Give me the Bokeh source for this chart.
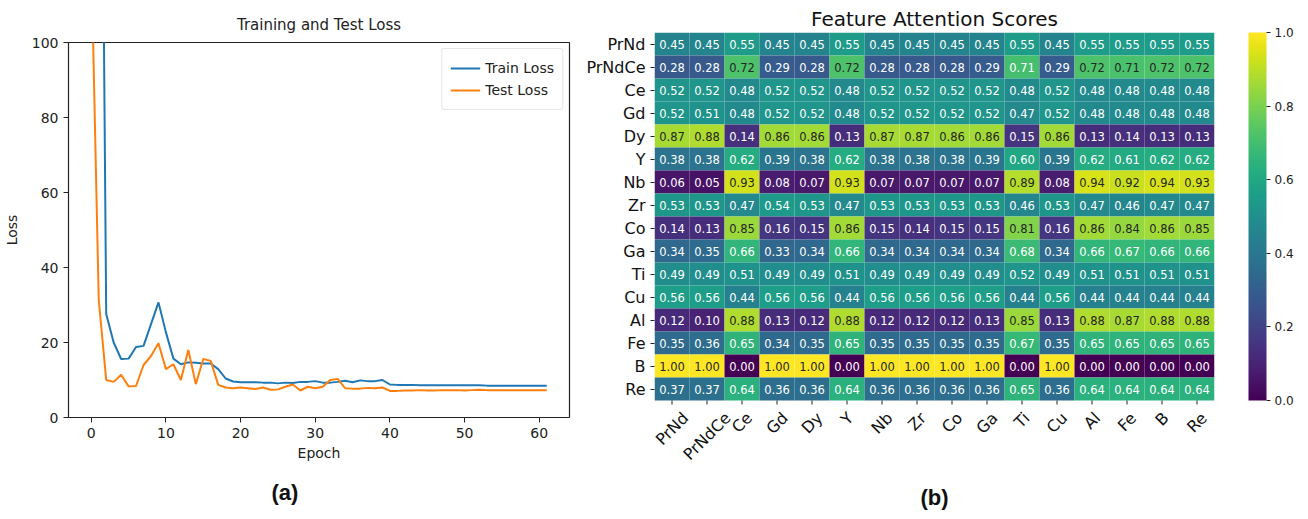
import math
from bokeh.plotting import figure
from bokeh.models import (Range1d, FixedTicker, ColumnDataSource, LinearColorMapper,
                          ColorBar, Title, FactorRange, PrintfTickFormatter)
from bokeh.palettes import Viridis256
from bokeh.layouts import row, column
from bokeh.embed import file_html
from bokeh.resources import INLINE
from bokeh.core.properties import value

FONT = "DejaVu Sans"

# ---------------- data: loss curves ----------------
epochs = list(range(62))
train_loss = [500, 270, 27.6, 20.0, 15.6, 15.7, 18.8, 19.1, 24.9, 30.7,
              22.7, 15.7, 14.2, 14.7, 14.6, 14.4, 14.4, 12.9, 10.4, 9.6,
              9.4, 9.4, 9.4, 9.3, 9.3, 9.1, 9.3, 9.2, 9.5, 9.5,
              9.7, 9.3, 9.3, 9.5, 9.8, 9.4, 9.9, 9.7, 9.7, 10.0,
              8.8, 8.7, 8.7, 8.7, 8.6, 8.6, 8.6, 8.6, 8.6, 8.6,
              8.6, 8.6, 8.6, 8.5, 8.5, 8.5, 8.5, 8.5, 8.5, 8.5,
              8.5, 8.5]
test_loss = [123, 31.4, 10.0, 9.5, 11.4, 8.3, 8.4, 14.0, 16.4, 19.8,
             12.9, 14.2, 10.0, 18.0, 8.9, 15.6, 15.1, 8.7, 8.0, 7.8,
             8.0, 7.8, 7.6, 8.0, 7.4, 7.5, 8.2, 8.8, 7.2, 8.2,
             7.8, 8.2, 10.0, 10.3, 7.8, 7.7, 7.7, 7.9, 7.8, 8.0,
             7.1, 7.1, 7.2, 7.2, 7.3, 7.2, 7.2, 7.3, 7.3, 7.3,
             7.2, 7.3, 7.4, 7.3, 7.3, 7.3, 7.3, 7.3, 7.3, 7.3,
             7.3, 7.3]
x_ticks = [0, 10, 20, 30, 40, 50, 60]
y_ticks = [0, 20, 40, 60, 80, 100]

# ---------------- data: attention heatmap ----------------
features = ["PrNd", "PrNdCe", "Ce", "Gd", "Dy", "Y", "Nb", "Zr",
            "Co", "Ga", "Ti", "Cu", "Al", "Fe", "B", "Re"]
row_PrNd   = [0.45, 0.45, 0.55, 0.45, 0.45, 0.55, 0.45, 0.45, 0.45, 0.45, 0.55, 0.45, 0.55, 0.55, 0.55, 0.55]
row_PrNdCe = [0.28, 0.28, 0.72, 0.29, 0.28, 0.72, 0.28, 0.28, 0.28, 0.29, 0.706, 0.29, 0.72, 0.713, 0.72, 0.72]
row_Ce     = [0.52, 0.52, 0.48, 0.52, 0.52, 0.48, 0.52, 0.52, 0.52, 0.52, 0.48, 0.52, 0.48, 0.48, 0.48, 0.48]
row_Gd     = [0.52, 0.51, 0.48, 0.52, 0.52, 0.48, 0.52, 0.52, 0.52, 0.52, 0.47, 0.52, 0.48, 0.48, 0.48, 0.48]
row_Dy     = [0.87, 0.88, 0.14, 0.86, 0.86, 0.13, 0.87, 0.87, 0.86, 0.86, 0.15, 0.86, 0.13, 0.14, 0.13, 0.13]
row_Y      = [0.38, 0.38, 0.62, 0.39, 0.38, 0.62, 0.38, 0.38, 0.38, 0.39, 0.60, 0.39, 0.62, 0.61, 0.62, 0.62]
row_Nb     = [0.06, 0.05, 0.93, 0.08, 0.07, 0.93, 0.07, 0.07, 0.07, 0.07, 0.89, 0.08, 0.94, 0.92, 0.94, 0.93]
row_Zr     = [0.53, 0.53, 0.47, 0.54, 0.53, 0.47, 0.53, 0.53, 0.53, 0.53, 0.46, 0.53, 0.47, 0.46, 0.47, 0.47]
row_Co     = [0.14, 0.13, 0.85, 0.16, 0.15, 0.86, 0.15, 0.14, 0.15, 0.15, 0.81, 0.16, 0.86, 0.84, 0.86, 0.85]
row_Ga     = [0.34, 0.35, 0.66, 0.33, 0.34, 0.66, 0.34, 0.34, 0.34, 0.34, 0.68, 0.34, 0.66, 0.67, 0.66, 0.66]
row_Ti     = [0.49, 0.49, 0.51, 0.49, 0.49, 0.51, 0.49, 0.49, 0.49, 0.49, 0.52, 0.49, 0.51, 0.51, 0.51, 0.51]
row_Cu     = [0.56, 0.56, 0.44, 0.56, 0.56, 0.44, 0.56, 0.56, 0.56, 0.56, 0.44, 0.56, 0.44, 0.44, 0.44, 0.44]
row_Al     = [0.12, 0.10, 0.88, 0.13, 0.12, 0.88, 0.12, 0.12, 0.12, 0.13, 0.85, 0.13, 0.88, 0.87, 0.88, 0.88]
row_Fe     = [0.35, 0.36, 0.65, 0.34, 0.35, 0.65, 0.35, 0.35, 0.35, 0.35, 0.67, 0.35, 0.65, 0.65, 0.65, 0.65]
row_B      = [1.00, 1.00, 0.00, 1.00, 1.00, 0.00, 1.00, 1.00, 1.00, 1.00, 0.00, 1.00, 0.00, 0.00, 0.00, 0.00]
row_Re     = [0.37, 0.37, 0.64, 0.36, 0.36, 0.64, 0.36, 0.36, 0.36, 0.36, 0.65, 0.36, 0.64, 0.64, 0.64, 0.64]
score_rows = [row_PrNd, row_PrNdCe, row_Ce, row_Gd, row_Dy, row_Y, row_Nb, row_Zr,
              row_Co, row_Ga, row_Ti, row_Cu, row_Al, row_Fe, row_B, row_Re]
cbar_ticks = [0.0, 0.2, 0.4, 0.6, 0.8, 1.0]

H = 519

# ---------------- left: loss plot ----------------
p1 = figure(width=580, height=H, x_range=Range1d(-3.05, 64.05), y_range=Range1d(0, 100),
            output_backend="svg", toolbar_location=None, title="Training and Test Loss",
            min_border_left=66, min_border_right=11, min_border_top=42, min_border_bottom=H - 417)
p1.title.align = "center"
p1.title.text_font = FONT
p1.title.text_font_size = "15px"
p1.title.text_font_style = "normal"
p1.title.text_color = "#222222"
p1.title.standoff = 17
p1.outline_line_color = "#222222"
p1.outline_line_width = 1.2
p1.grid.visible = False

p1.line(epochs, train_loss, line_color="#1f77b4", line_width=2, legend_label="Train Loss")
p1.line(epochs, test_loss, line_color="#ff7f0e", line_width=2, legend_label="Test Loss")

p1.xaxis.ticker = FixedTicker(ticks=x_ticks)
p1.yaxis.ticker = FixedTicker(ticks=y_ticks)
for ax in (p1.xaxis[0], p1.yaxis[0]):
    ax.major_label_text_font = FONT
    ax.major_label_text_font_size = "14px"
    ax.major_label_text_color = "#222222"
    ax.axis_label_text_font = FONT
    ax.axis_label_text_font_size = "14px"
    ax.axis_label_text_font_style = "normal"
    ax.axis_label_text_color = "#222222"
    ax.minor_tick_line_color = None
    ax.major_tick_in = 0
    ax.major_tick_out = 5
    ax.axis_line_color = None
    ax.major_tick_line_color = "#222222"
p1.xaxis.axis_label = "Epoch"
p1.yaxis.axis_label = "Loss"
p1.xaxis.axis_label_standoff = 4
p1.yaxis.axis_label_standoff = 9

lg = p1.legend[0]
lg.location = "top_right"
lg.label_text_font = FONT
lg.label_text_font_size = "14px"
lg.label_text_color = "#222222"
lg.border_line_color = "#cccccc"
lg.border_line_width = 1
lg.border_radius = 3
lg.glyph_width = 30
lg.spacing = 0
lg.padding = 8
lg.margin = 6
lg.label_height = 22

p1.add_layout(Title(text="(a)", align="left", offset=203, standoff=29,
                    text_font="Liberation Sans", text_font_size="22px",
                    text_font_style="bold", text_color="#111111"), "below")

# ---------------- right: heatmap ----------------
n = len(features)
P2_TOP = 32
CELL_PX = 23.0
Y_BOTTOM = n - (H - P2_TOP) / CELL_PX        # extra room below the cells for rotated labels
row_pos = {name: n - 0.5 - i for i, name in enumerate(features)}

xs, ys, vs, labels, tcs = [], [], [], [], []
for i, rname in enumerate(features):
    for j, cname in enumerate(features):
        v = score_rows[i][j]
        xs.append(cname)
        ys.append(row_pos[rname])
        vs.append(v)
        labels.append(f"{v:.2f}")
        tcs.append("#262626" if v >= 0.71 else "#ffffff")
src = ColumnDataSource(dict(x=xs, y=ys, v=vs, label=labels, tc=tcs))

mapper = LinearColorMapper(palette=Viridis256, low=0.0, high=1.0)

p2 = figure(width=720, height=H, x_range=FactorRange(*features),
            y_range=Range1d(Y_BOTTOM, n),
            output_backend="svg", toolbar_location=None, title="Feature Attention Scores",
            min_border_left=74, min_border_right=86, min_border_top=P2_TOP, min_border_bottom=0)
p2.title.align = "center"
p2.title.text_font = FONT
p2.title.text_font_size = "20px"
p2.title.text_font_style = "normal"
p2.title.text_color = "#111111"
p2.title.standoff = 4
p2.outline_line_color = None
p2.grid.visible = False
p2.xaxis.visible = False

px_per_unit = (H - P2_TOP) / (n - Y_BOTTOM)

p2.rect(x="x", y="y", width=1, height=1, source=src,
        fill_color={"field": "v", "transform": mapper}, line_color=None)
p2.text(x="x", y="y", text="label", source=src, text_align="center", text_baseline="middle",
        text_color="tc", text_font=value(FONT), text_font_size="11.5px")

# y axis: feature names at row centres
ya = p2.yaxis[0]
ya.ticker = FixedTicker(ticks=[row_pos[f] for f in features])
ya.major_label_overrides = {row_pos[f]: f for f in features}
ya.major_label_text_font = FONT
ya.major_label_text_font_size = "16px"
ya.major_label_text_color = "#111111"
ya.axis_line_color = None
ya.major_tick_in = 0
ya.major_tick_out = 4
ya.major_tick_line_color = "#222222"
ya.minor_tick_line_color = None
ya.major_label_standoff = 5

# x axis: ticks + 45-degree labels centred under each column
adv = {"P": 1235, "r": 842, "N": 1532, "d": 1300, "C": 1430, "e": 1260, "G": 1589,
       "D": 1577, "y": 1212, "Y": 1251, "b": 1300, "Z": 1405, "o": 1253, "a": 1255,
       "T": 1251, "i": 569, "u": 1298, "A": 1401, "l": 569, "F": 1178, "B": 1405, "R": 1423}
XFS = 16
xl_off = [8 + (sum(adv.get(c, 1250) for c in f) / 2048 * XFS + 18.7) * 0.3536 for f in features]
xlab = ColumnDataSource(dict(x=features, y=[0.0] * n, off=xl_off, text=features))
p2.segment(x0=features, y0=[0.0] * n, x1=features, y1=[-4 / px_per_unit] * n,
           line_color="#222222", line_width=1)
p2.text(x="x", y="y", text="text", y_offset="off", source=xlab, angle=math.pi / 4,
        text_align="center", text_baseline="middle", text_color="#111111",
        text_font=value(FONT), text_font_size=f"{XFS}px")

# panel label (b)
p2.text(x=[n / 2], y=[n - (497 - P2_TOP) / px_per_unit], text=["(b)"],
        text_align="center", text_baseline="middle", text_color="#111111",
        text_font=value("Liberation Sans"), text_font_size="22px", text_font_style="bold")

cb = ColorBar(color_mapper=mapper, width=18, height=int(round(n * px_per_unit)),
              location=(34, int(round(-Y_BOTTOM * px_per_unit))),
              ticker=FixedTicker(ticks=cbar_ticks),
              formatter=PrintfTickFormatter(format="%.1f"),
              major_label_text_font=FONT, major_label_text_font_size="12px",
              major_label_text_color="#222222",
              major_tick_in=0, major_tick_out=4, major_tick_line_color="#222222",
              bar_line_color=None, border_line_color=None, background_fill_color=None,
              margin=0, padding=0, label_standoff=4)
p2.add_layout(cb, "right")

layout = row(column(p1), column(p2))
open("out.html", "w").write(file_html(layout, INLINE))
